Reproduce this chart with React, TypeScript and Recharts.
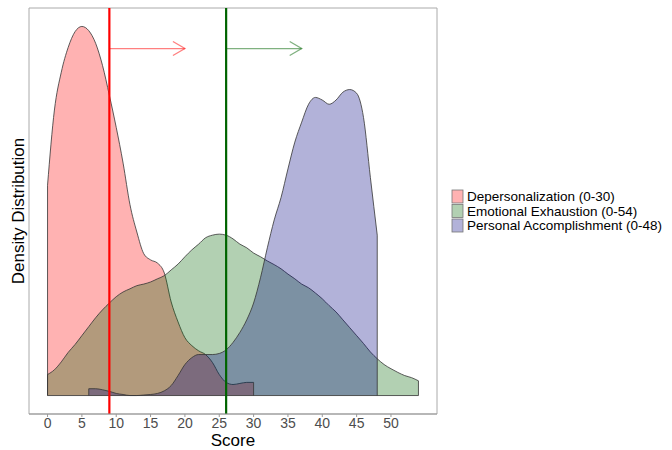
import { ComposedChart, Area, XAxis, YAxis, ReferenceLine, ReferenceArea, Label } from 'recharts'

// score grid the densities were read on
const scores = [
  0, 1, 2, 3, 4, 5, 6, 7, 8, 9, 10, 11, 12, 13, 14, 15, 16, 17, 18, 19, 20, 21, 22, 23, 24, 25, 26, 27,
  28, 29, 30, 31, 32, 33, 34, 35, 36, 37, 38, 39, 40, 41, 42, 43, 44, 45, 46, 47, 48, 49, 50, 51, 52, 53, 54,
]
const xTicks = [0, 5, 10, 15, 20, 25, 30, 35, 40, 45, 50]

// Depersonalization, scores 0..30
const depersonalization = [
  0.04, 0.0543, 0.0615, 0.0662, 0.0692, 0.0702, 0.0694, 0.067, 0.0628, 0.0571, 0.051, 0.0442, 0.0363, 0.0311,
  0.027, 0.0258, 0.0252, 0.0233, 0.0178, 0.014, 0.011, 0.0095, 0.0085, 0.0078, 0.0063, 0.004, 0.0025, 0.0021,
  0.0023, 0.0025, 0.0025,
]
// Emotional Exhaustion, scores 0..54
const exhaustion = [
  0.004, 0.0049, 0.0064, 0.0082, 0.0097, 0.0114, 0.0131, 0.0148, 0.0163, 0.0176, 0.0188, 0.0197, 0.0203, 0.0209,
  0.0212, 0.0216, 0.0222, 0.0228, 0.0239, 0.025, 0.0264, 0.0277, 0.0288, 0.03, 0.0305, 0.0307, 0.0305, 0.0298,
  0.0288, 0.0281, 0.0271, 0.0264, 0.0256, 0.0249, 0.0241, 0.0231, 0.0222, 0.0212, 0.0205, 0.0195, 0.0184, 0.0171,
  0.0159, 0.0144, 0.0129, 0.0114, 0.0099, 0.0083, 0.007, 0.0059, 0.0051, 0.0044, 0.0038, 0.0034, 0.0028,
]
// Personal Accomplishment, scores 6..48
const accomplishment = [
  0.0013, 0.0013, 0.0011, 0.0008, 0.0004, 0.0002, 0.0, 0.0, 0.0001, 0.0002, 0.0004, 0.0009, 0.0019, 0.0038,
  0.0059, 0.0072, 0.0078, 0.0078, 0.0078, 0.008, 0.0087, 0.0101, 0.012, 0.0144, 0.0176, 0.0224, 0.0281, 0.0334,
  0.0377, 0.0431, 0.0482, 0.052, 0.0554, 0.0567, 0.0562, 0.0554, 0.0562, 0.0577, 0.0582, 0.0575, 0.0529, 0.0415,
  0.0305,
]

const cutoffs = [9, 26]
const arrowEnds = [20, 37]
const arrowLevel = 0.066

const series = [
  { key: 'dp', name: 'Depersonalization (0-30)', start: 0, values: depersonalization, color: '#FF0000' },
  { key: 'ee', name: 'Emotional Exhaustion (0-54)', start: 0, values: exhaustion, color: '#006400' },
  { key: 'pa', name: 'Personal Accomplishment (0-48)', start: 6, values: accomplishment, color: '#000080' },
]
const lineColors = ['#FF0000', '#006400']

const FONT = '"Liberation Sans", Arial, sans-serif'
const OUTLINE = '#333333'

const rows = scores.map((s) => {
  const row: Record<string, number | null> = { score: s }
  series.forEach((ser) => {
    const i = s - ser.start
    row[ser.key] = i >= 0 && i < ser.values.length ? ser.values[i] : null
  })
  return row
})

const peak = Math.max(...series.flatMap((s) => s.values))
const yDomain = [-0.05 * peak, 1.05 * peak]
const xMin = Math.min(...scores)
const xMax = Math.max(...scores)
const xPad = (xMax - xMin) * 0.05
const xDomain = [xMin - xPad, xMax + xPad]

function ArrowShape(props: any) {
  const { x1, y1, x2, y2, stroke } = props
  return (
    <g stroke={stroke} strokeOpacity={0.5} strokeWidth={1.3} fill="none">
      <line x1={x1} y1={y1} x2={x2} y2={y2} />
      <polyline points={`${x2 - 12},${y2 - 7} ${x2},${y2} ${x2 - 12},${y2 + 7}`} />
    </g>
  )
}

function YTitle(props: any) {
  const vb = props.viewBox || { x: 0, y: 8, width: 29, height: 406 }
  const cx = vb.x + 24
  const cy = vb.y + vb.height / 2
  return (
    <text x={cx} y={cy} transform={`rotate(-90, ${cx}, ${cy})`} textAnchor="middle" fontSize={17} fill="#000" fontFamily={FONT}>
      Density Distribution
    </text>
  )
}

function LegendBox() {
  const step = 14.5
  return (
    <svg width={222} height={48}>
      {series.map((s, i) => (
        <g key={s.key}>
          <rect x={2} y={1 + i * step} width={11} height={13} fill={s.color} fillOpacity={0.3} stroke="#777" strokeWidth={0.8} />
          <text x={17} y={12 + i * step} fontSize={13.5} fill="#000" fontFamily={FONT}>
            {s.name}
          </text>
        </g>
      ))}
    </svg>
  )
}

export default function App() {
  return (
    <div style={{ position: 'absolute', left: 0, top: 0, width: 672, height: 450, background: '#fff', fontFamily: FONT }}>
      <ComposedChart width={672} height={450} data={rows} margin={{ top: 8, right: 235, bottom: 0, left: 0 }}>
        <XAxis
          dataKey="score"
          type="number"
          domain={xDomain}
          allowDataOverflow
          ticks={xTicks}
          height={36}
          tickSize={3}
          tickMargin={1}
          stroke="#999"
          tick={{ fill: '#4D4D4D', fontSize: 14, fontFamily: FONT }}
        >
          <Label value="Score" position="insideBottom" offset={4} fill="#000" fontSize={17} fontFamily={FONT} />
        </XAxis>
        <YAxis type="number" domain={yDomain} allowDataOverflow width={29} tick={false} tickLine={false} axisLine={false}>
          <Label content={<YTitle />} />
        </YAxis>
        <ReferenceArea x1={xDomain[0]} x2={xDomain[1]} y1={yDomain[0]} y2={yDomain[1]} fill="none" stroke="#AAAAAA" strokeWidth={1} />
        {series.map((s) => (
          <Area
            key={s.key}
            dataKey={s.key}
            name={s.name}
            type="monotone"
            baseValue={0}
            fill={s.color}
            fillOpacity={0.3}
            stroke={OUTLINE}
            strokeWidth={0.8}
            connectNulls={false}
            dot={false}
            activeDot={false}
            isAnimationActive={false}
          />
        ))}
        {series.map((s) => {
          const a = s.start
          const b = s.start + s.values.length - 1
          return [
            <ReferenceLine key={s.key + 'a'} segment={[{ x: a, y: 0 }, { x: a, y: s.values[0] }]} stroke={OUTLINE} strokeWidth={0.8} />,
            <ReferenceLine key={s.key + 'b'} segment={[{ x: b, y: 0 }, { x: b, y: s.values[s.values.length - 1] }]} stroke={OUTLINE} strokeWidth={0.8} />,
          ]
        })}
        <ReferenceLine segment={[{ x: xMin, y: 0 }, { x: xMax, y: 0 }]} stroke={OUTLINE} strokeWidth={0.8} />
        {cutoffs.map((c, i) => (
          <ReferenceLine key={'cut' + c} x={c} stroke={lineColors[i]} strokeWidth={2.2} />
        ))}
        {cutoffs.map((c, i) => (
          <ReferenceLine
            key={'arrow' + c}
            segment={[{ x: c, y: arrowLevel }, { x: arrowEnds[i], y: arrowLevel }]}
            stroke={lineColors[i]}
            shape={ArrowShape}
          />
        ))}
      </ComposedChart>
      <div style={{ position: 'absolute', left: 450, top: 189 }}>
        <LegendBox />
      </div>
    </div>
  )
}
